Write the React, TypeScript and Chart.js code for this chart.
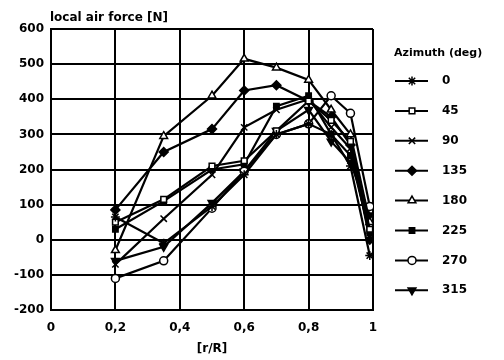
import React, { useEffect, useRef } from "react";
import { Chart, registerables } from "chart.js";
import { drawPoint } from "chart.js/helpers";

Chart.register(...registerables);

const radialPositions = [0.2, 0.35, 0.5, 0.6, 0.7, 0.8, 0.87, 0.93, 0.99];

const azimuthLabels = ["0", "45", "90", "135", "180", "225", "270", "315"];

const az0 = [65, -10, 95, 185, 300, 330, 300, 210, -45];
const az45 = [50, 115, 210, 225, 310, 395, 340, 280, 30];
const az90 = [-70, 60, 185, 320, 370, 400, 320, 260, 10];
const az135 = [85, 250, 315, 425, 440, 395, 350, 270, 0];
const az180 = [-30, 295, 410, 515, 490, 455, 370, 300, 50];
const az225 = [30, 110, 200, 215, 380, 410, 300, 240, 20];
const az270 = [-110, -60, 90, 195, 300, 330, 410, 360, 95];
const az315 = [-60, -20, 105, 195, 310, 370, 280, 220, 70];

const seriesValues = [az0, az45, az90, az135, az180, az225, az270, az315];

const yAxisTitle = "local air force [N]";
const xAxisTitle = "[r/R]";
const legendTitle = "Azimuth (deg)";

const markerStyles = [
  { pointStyle: "star", fill: "#000", rotation: 0, radius: 4.5 },
  { pointStyle: "rect", fill: "#fff", rotation: 0, radius: 4 },
  { pointStyle: "crossRot", fill: "#000", rotation: 0, radius: 4.5 },
  { pointStyle: "rectRot", fill: "#000", rotation: 0, radius: 4.5 },
  { pointStyle: "triangle", fill: "#fff", rotation: 0, radius: 4.5 },
  { pointStyle: "rect", fill: "#000", rotation: 0, radius: 3.8 },
  { pointStyle: "circle", fill: "#fff", rotation: 0, radius: 4 },
  { pointStyle: "triangle", fill: "#000", rotation: 180, radius: 4.5 },
];

const FONT = "'DejaVu Sans', sans-serif";

const textPlugin = {
  id: "customTexts",
  afterDraw(chart: any) {
    const ctx = chart.ctx as CanvasRenderingContext2D;
    ctx.save();
    ctx.fillStyle = "#000";
    ctx.font = `bold 12px ${FONT}`;
    ctx.textBaseline = "middle";
    ctx.textAlign = "left";
    ctx.fillText(yAxisTitle, 50, 18);
    ctx.textAlign = "center";
    ctx.fillText(xAxisTitle, 212, 349);

    // legend
    ctx.textAlign = "left";
    ctx.font = `bold 11px ${FONT}`;
    ctx.fillText(legendTitle, 394, 53, 104);
    azimuthLabels.forEach((lab, i) => {
      const y = 81 + i * 29.9;
      ctx.strokeStyle = "#000";
      ctx.lineWidth = 2;
      ctx.beginPath();
      ctx.moveTo(395, y);
      ctx.lineTo(428, y);
      ctx.stroke();
      const m = markerStyles[i];
      ctx.fillStyle = m.fill;
      ctx.strokeStyle = "#000";
      ctx.lineWidth = 1.5;
      drawPoint(ctx, { pointStyle: m.pointStyle as any, rotation: m.rotation, radius: m.radius, borderWidth: 1.5 }, 412, y);
      ctx.fillStyle = "#000";
      ctx.font = `bold 12px ${FONT}`;
      ctx.fillText(lab, 442, y);
    });
    ctx.restore();
  },
};

export default function App() {
  const ref = useRef<HTMLCanvasElement | null>(null);
  useEffect(() => {
    if (!ref.current) return;
    const datasets = seriesValues.map((vals, i) => ({
      label: azimuthLabels[i],
      data: vals.map((v, j) => ({ x: radialPositions[j], y: v })),
      borderColor: "#000",
      backgroundColor: markerStyles[i].fill,
      pointBackgroundColor: markerStyles[i].fill,
      pointBorderColor: "#000",
      pointStyle: markerStyles[i].pointStyle as any,
      pointRotation: markerStyles[i].rotation,
      pointRadius: markerStyles[i].radius,
      pointBorderWidth: 1.5,
      borderWidth: 2.2,
      tension: 0,
      fill: false,
    }));
    const chart = new Chart(ref.current, {
      type: "line",
      data: { datasets },
      plugins: [textPlugin],
      options: {
        animation: false,
        responsive: true,
        maintainAspectRatio: false,
        layout: { padding: { left: 8, right: 131, top: 29, bottom: 0 } },
        plugins: {
          legend: { display: false },
          tooltip: { enabled: false },
          title: { display: false },
        },
        scales: {
          x: {
            type: "linear",
            min: 0,
            max: 1,
            afterFit: (s: any) => {
              s.height = 50;
            },
            ticks: {
              stepSize: 0.2,
              color: "#000",
              padding: 11,
              font: { family: FONT, size: 12, weight: "bold" },
              callback: (v: any) => {
                const n = Number(v);
                if (n === 0) return "0";
                if (Math.abs(n - 1) < 1e-9) return "1";
                return n.toFixed(1).replace(".", ",");
              },
            },
            grid: { color: "#000", lineWidth: 2, drawTicks: false },
            border: { color: "#000", width: 2 },
          },
          y: {
            type: "linear",
            min: -200,
            max: 600,
            afterFit: (s: any) => {
              s.width = 43;
            },
            ticks: {
              stepSize: 100,
              color: "#000",
              padding: 7,
              font: { family: FONT, size: 12, weight: "bold" },
            },
            grid: { color: "#000", lineWidth: 2, drawTicks: false },
            border: { color: "#000", width: 2 },
          },
        },
      },
    });
    return () => chart.destroy();
  }, []);
  return (
    <div style={{ position: "absolute", left: 0, top: 0, width: 504, height: 360, background: "#fff" }}>
      <canvas ref={ref} />
    </div>
  );
}
